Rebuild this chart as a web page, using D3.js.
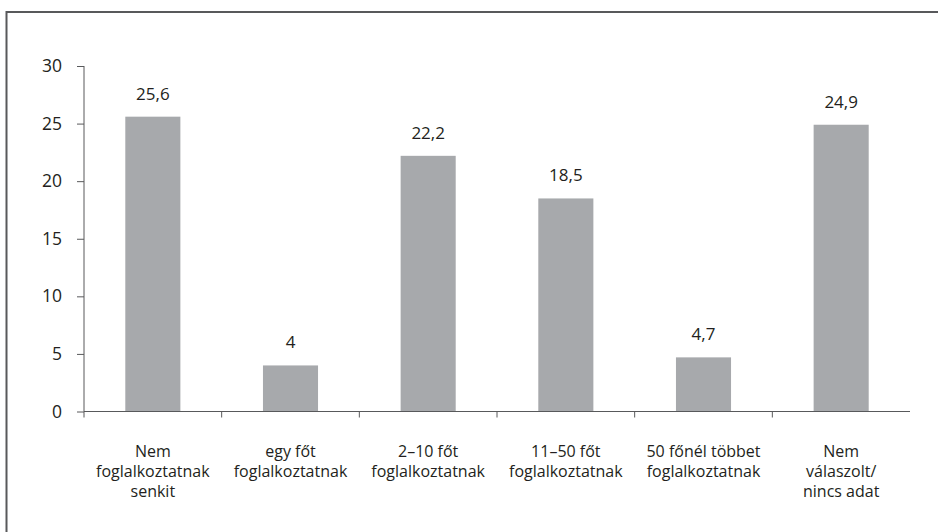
<!DOCTYPE html>
<html>
<head>
<meta charset="utf-8">
<script src="https://cdn.jsdelivr.net/npm/d3@7"></script>
<style>
  html, body { margin: 0; padding: 0; background: #fff; }
  svg { display: block; }
  text { font-family: "Open Sans", "Noto Sans", sans-serif; fill: #231f20; }
</style>
</head>
<body>
<svg id="chart" width="938" height="532"></svg>
<script>
const categories = [
  ["Nem", "foglalkoztatnak", "senkit"],
  ["egy főt", "foglalkoztatnak"],
  ["2–10 főt", "foglalkoztatnak"],
  ["11–50 főt", "foglalkoztatnak"],
  ["50 főnél többet", "foglalkoztatnak"],
  ["Nem", "válaszolt/", "nincs adat"]
];
const values = [25.6, 4, 22.2, 18.5, 4.7, 24.9];
const valueLabels = ["25,6", "4", "22,2", "18,5", "4,7", "24,9"];
const yTicks = [0, 5, 10, 15, 20, 25, 30];

(function () {
const svg = d3.select("#chart");

// frame (top and left edges visible)
svg.append("path")
  .attr("d", "M6.5,532 L6.5,12 L938,12")
  .attr("fill", "none")
  .attr("stroke", "#58595b")
  .attr("stroke-width", 2);

const mLeft = 84, mRight = 910, mTop = 66, mBottom = 411.5;
const xb = d3.scaleBand().domain(d3.range(values.length)).range([mLeft, mRight]);
const y = d3.scaleLinear().domain([0, 30]).range([mBottom, mTop]);

// bars
svg.selectAll("rect.bar").data(values).enter().append("rect")
  .attr("class", "bar")
  .attr("x", (d, i) => xb(i) + xb.bandwidth() * 0.3)
  .attr("width", xb.bandwidth() * 0.4)
  .attr("y", d => y(d))
  .attr("height", d => y(0) - y(d))
  .attr("fill", "#a7a9ac");

// y axis
const yAxis = svg.append("g").attr("transform", `translate(${mLeft},0)`)
  .call(d3.axisLeft(y).tickValues(yTicks).tickSize(7).tickPadding(15).tickFormat(d3.format("d")));
yAxis.select(".domain").attr("stroke", "#58595b").attr("d", `M0,${mTop}H0V${mBottom}`);
yAxis.selectAll(".tick line").attr("stroke", "#58595b");
yAxis.selectAll(".tick text").style("font-size", "17.5px").attr("fill", "#231f20");

// x axis line
svg.append("line")
  .attr("x1", mLeft).attr("x2", mRight)
  .attr("y1", mBottom).attr("y2", mBottom)
  .attr("stroke", "#58595b").attr("stroke-width", 1);
// category separator ticks
const sepTicks = d3.range(values.length).map(i => xb(i));
svg.selectAll("line.sep").data(sepTicks).enter().append("line")
  .attr("class", "sep")
  .attr("x1", d => d).attr("x2", d => d)
  .attr("y1", mBottom).attr("y2", mBottom + 6)
  .attr("stroke", "#58595b");

// value labels
svg.selectAll("text.val").data(values).enter().append("text")
  .attr("class", "val")
  .attr("x", (d, i) => xb(i) + xb.bandwidth() / 2)
  .attr("y", d => y(d) - 17)
  .attr("text-anchor", "middle")
  .style("font-size", "17px")
  .text((d, i) => valueLabels[i]);

// category labels
categories.forEach((lines, i) => {
  const t = svg.append("text")
    .attr("x", xb(i) + xb.bandwidth() / 2)
    .attr("y", 457)
    .attr("text-anchor", "middle")
    .style("font-size", "16px");
  lines.forEach((ln, j) => {
    t.append("tspan")
      .attr("x", xb(i) + xb.bandwidth() / 2)
      .attr("dy", j === 0 ? 0 : 20)
      .text(ln);
  });
});
})();
</script>
</body>
</html>
